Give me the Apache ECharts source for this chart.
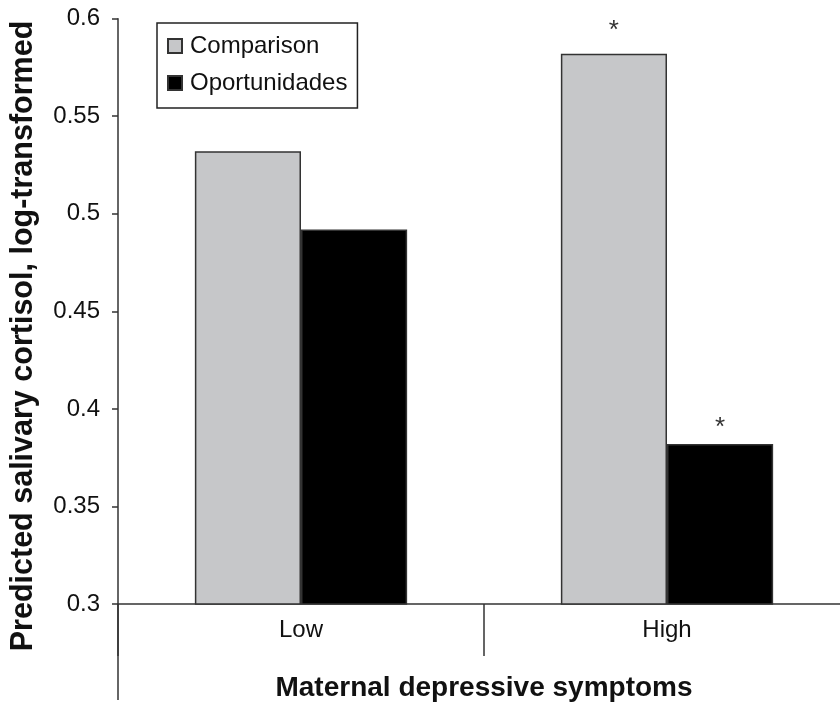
<!DOCTYPE html>
<html>
<head>
<meta charset="utf-8">
<script src="https://cdn.jsdelivr.net/npm/echarts@6/dist/echarts.min.js"></script>
<style>html,body{margin:0;padding:0;background:#fff;}#c{width:840px;height:705px;}</style>
</head>
<body>
<div id="c"></div>
<script>
var categories = ['Low', 'High'];
var comparison = [0.532, 0.582];
var oportunidades = [0.492, 0.382];
var comparisonMarks = ['', '*'];
var oportunidadesMarks = ['', '*'];
var yTicks = { min: 0.3, max: 0.6, interval: 0.05 };

var font = '"Liberation Sans", Arial, sans-serif';

function withMarks(vals, marks, dist) {
  return vals.map(function (v, i) {
    return {
      value: v,
      label: {
        show: marks[i] !== '',
        formatter: marks[i],
        position: 'top',
        distance: dist,
        color: '#333',
        fontSize: 26,
        fontFamily: font
      }
    };
  });
}

var chart = echarts.init(document.getElementById('c'), null, { renderer: 'canvas' });
chart.setOption({
  animation: false,
  backgroundColor: '#fff',
  grid: { left: 118, width: 732, top: 18.7, bottom: 101, containLabel: false, outerBoundsMode: 'none' },
  legend: {
    orient: 'vertical',
    left: 157, top: 23,
    padding: [11, 10, 13, 10],
    itemGap: 13,
    itemWidth: 14, itemHeight: 14,
    icon: 'rect',
    borderColor: '#222', borderWidth: 1.5,
    textStyle: { fontSize: 24, fontFamily: font, color: '#111', padding: [0, 0, 0, 3] },
    data: ['Comparison', 'Oportunidades']
  },
  xAxis: {
    type: 'category',
    data: categories,
    name: 'Maternal depressive symptoms',
    nameLocation: 'middle',
    nameGap: 84,
    nameTextStyle: { fontSize: 28, fontWeight: 'bold', fontFamily: font, color: '#111', verticalAlign: 'middle' },
    axisLine: { lineStyle: { color: '#333', width: 1.5 } },
    axisTick: { show: true, length: 52, alignWithLabel: false, lineStyle: { color: '#333', width: 1.5 } },
    axisLabel: { fontSize: 24, fontFamily: font, color: '#111', margin: 14 }
  },
  yAxis: {
    type: 'value',
    min: yTicks.min, max: yTicks.max, interval: yTicks.interval,
    splitLine: { show: false },
    axisLine: { show: true, lineStyle: { color: '#333', width: 1.5 } },
    axisTick: { show: true, length: 6, lineStyle: { color: '#333', width: 1.5 } },
    axisLabel: {
      fontSize: 24, fontFamily: font, color: '#111', margin: 18,
      formatter: function (v) { return String(parseFloat(v.toFixed(2))); }
    }
  },
  graphic: [
    {
      type: 'line',
      shape: { x1: 118, y1: 604, x2: 118, y2: 700 },
      style: { stroke: '#333', lineWidth: 1.5 }
    },
    {
      type: 'text',
      x: 24, y: 336,
      rotation: Math.PI / 2,
      style: {
        text: 'Predicted salivary cortisol, log-transformed',
        fontSize: 30.5, fontWeight: 'bold', fontFamily: font,
        fill: '#111', align: 'center', verticalAlign: 'middle'
      }
    }
  ],
  series: [
    {
      name: 'Comparison',
      type: 'bar',
      data: withMarks(comparison, comparisonMarks, 10),
      barGap: '0%',
      barCategoryGap: '42%',
      itemStyle: { color: '#c6c7c9', borderColor: '#333', borderWidth: 1.5 }
    },
    {
      name: 'Oportunidades',
      type: 'bar',
      data: withMarks(oportunidades, oportunidadesMarks, 3),
      barGap: '0%',
      barCategoryGap: '42%',
      itemStyle: { color: '#000', borderColor: '#333', borderWidth: 1.5 }
    }
  ]
});
</script>
</body>
</html>
